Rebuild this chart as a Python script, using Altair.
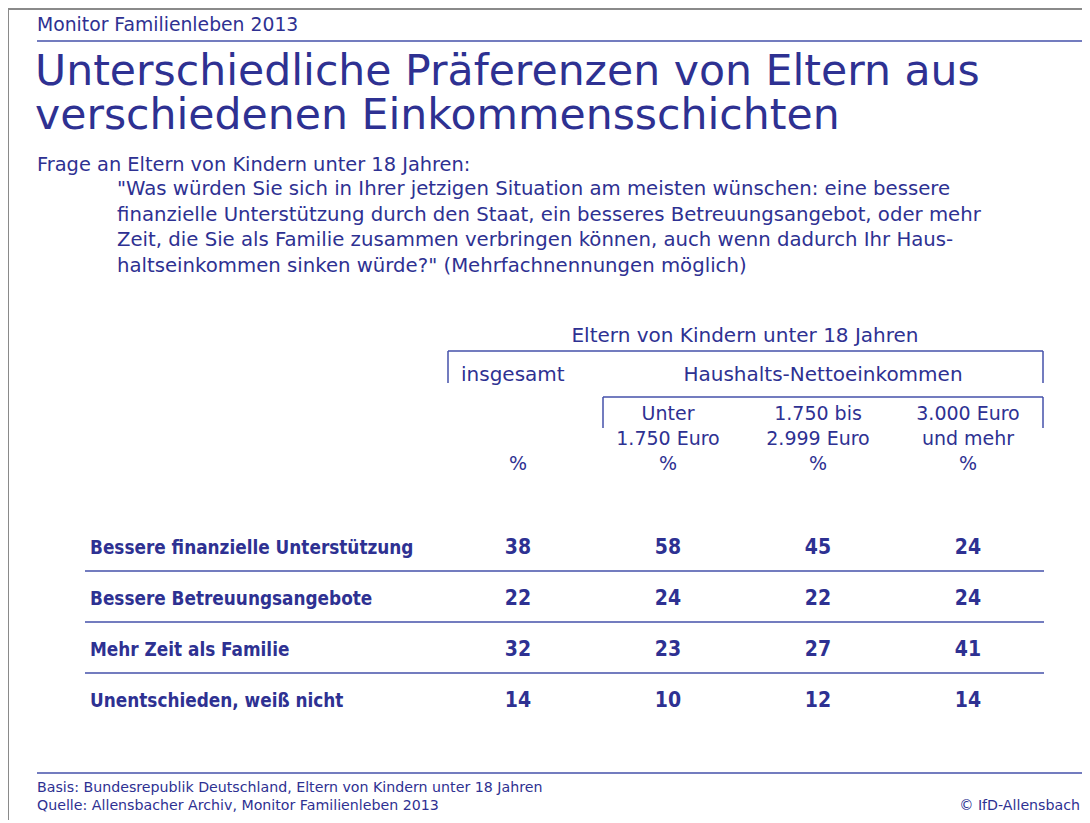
import altair as alt
import pandas as pd

# ---------------- data ----------------
rows = [
    "Bessere finanzielle Unterstützung",
    "Bessere Betreuungsangebote",
    "Mehr Zeit als Familie",
    "Unentschieden, weiß nicht",
]
columns = ["insgesamt", "Unter 1.750 Euro", "1.750 bis 2.999 Euro", "3.000 Euro und mehr"]
insgesamt = [38, 22, 32, 14]
unter_1750 = [58, 24, 23, 10]
von_1750_bis_2999 = [45, 22, 27, 12]
ab_3000 = [24, 24, 41, 14]
head_line1 = ["", "Unter", "1.750 bis", "3.000 Euro"]
head_line2 = ["", "1.750 Euro", "2.999 Euro", "und mehr"]
head_unit = ["%", "%", "%", "%"]

kicker = "Monitor Familienleben 2013"
title_lines = ["Unterschiedliche Präferenzen von Eltern aus", "verschiedenen Einkommensschichten"]
question_intro = "Frage an Eltern von Kindern unter 18 Jahren:"
question_lines = [
    "\"Was würden Sie sich in Ihrer jetzigen Situation am meisten wünschen: eine bessere",
    " finanzielle Unterstützung durch den Staat, ein besseres Betreuungsangebot, oder mehr",
    " Zeit, die Sie als Familie zusammen verbringen können, auch wenn dadurch Ihr Haus-",
    " haltseinkommen sinken würde?\" (Mehrfachnennungen möglich)",
]
group_label = "Eltern von Kindern unter 18 Jahren"
sub_label_total = "insgesamt"
sub_label_income = "Haushalts-Nettoeinkommen"
basis = "Basis: Bundesrepublik Deutschland, Eltern von Kindern unter 18 Jahren"
source = "Quelle: Allensbacher Archiv, Monitor Familienleben 2013"
copyright_note = "© IfD-Allensbach"

# ---------------- tables ----------------
series = [insgesamt, unter_1750, von_1750_bis_2999, ab_3000]
table = pd.DataFrame(
    [{"row": r, "col": c, "value": series[j][i]}
     for i, r in enumerate(rows) for j, c in enumerate(columns)]
)
heads = pd.DataFrame({"col": columns, "l1": head_line1, "l2": head_line2, "unit": head_unit})
row_df = pd.DataFrame({"row": rows})

# ---------------- style ----------------
W, H = 1074, 812
TXT = "#2e3192"
LINE = "#4450aa"
GRAY = "#8a8a8a"
FONT = "DejaVu Sans"
BOLD = "DejaVu Sans Condensed"

xs = alt.Scale(type="point", domain=columns, range=[510, 960], padding=0)
ys = alt.Scale(type="point", domain=rows, range=[538, 691], padding=0)
X = alt.X("col:N", scale=xs, axis=None)
Y = alt.Y("row:N", scale=ys, axis=None)

one = alt.Data(values=[{}])


def txt(text, x, y, size, align="left", weight="normal", font=FONT, line_height=None, baseline="alphabetic"):
    kw = dict(text=text, align=align, baseline=baseline, fontSize=size, font=font,
              fontWeight=weight, color=TXT)
    if line_height:
        kw["lineHeight"] = line_height
    return alt.Chart(one).mark_text(**kw).encode(x=alt.value(x), y=alt.value(y))


def rule(x, x2, y, y2=None, color=LINE, width=1.5):
    enc = dict(x=alt.value(x), x2=alt.value(x2), y=alt.value(y))
    if y2 is not None:
        enc["y2"] = alt.value(y2)
    return alt.Chart(one).mark_rule(color=color, strokeWidth=width).encode(**enc)


layers = []
# frame
layers.append(rule(0, W, 1, color=GRAY, width=2))
layers.append(rule(0, 0, 0, H, color=GRAY, width=2))
# kicker + line
layers.append(txt(kicker, 29, 23, 18.8))
layers.append(rule(29, W, 33))
# title
layers.append(txt(title_lines, 27, 77, 42.6, line_height=44))
# question
layers.append(txt(question_intro, 29, 163, 19.4))
layers.append(txt(question_lines, 109, 187, 19.7, line_height=25.5))

# header group
layers.append(txt(group_label, 737, 334, 20, align="center"))
layers.append(rule(440, 1035, 343))
layers.append(rule(440, 440, 343, 375))
layers.append(rule(1035, 1035, 343, 375))
layers.append(txt(sub_label_total, 453, 373, 20))
layers.append(txt(sub_label_income, 815, 373, 20, align="center"))
layers.append(rule(595, 1035, 389))
layers.append(rule(595, 595, 389, 420))
layers.append(rule(1035, 1035, 389, 420))

# column heads via column scale
hstyle = dict(fontSize=19, font=FONT, color=TXT, align="center", baseline="alphabetic")
layers.append(alt.Chart(heads).mark_text(**hstyle).encode(x=X, y=alt.value(412), text="l1:N"))
layers.append(alt.Chart(heads).mark_text(**hstyle).encode(x=X, y=alt.value(437), text="l2:N"))
layers.append(alt.Chart(heads).mark_text(**hstyle).encode(x=X, y=alt.value(462), text="unit:N"))

# row separators
layers.append(
    alt.Chart(row_df.iloc[:-1]).mark_rule(color=LINE, strokeWidth=1.5, yOffset=25)
    .encode(y=Y, x=alt.value(77), x2=alt.value(1036))
)
# row labels
layers.append(
    alt.Chart(row_df).mark_text(align="left", baseline="middle", fontSize=18.8, font=BOLD,
                                fontWeight="bold", color=TXT, dy=1.5)
    .encode(y=Y, x=alt.value(82), text="row:N")
)
# values
layers.append(
    alt.Chart(table).mark_text(align="center", baseline="middle", fontSize=21, font=BOLD,
                               fontWeight="bold", color=TXT, dy=1.5)
    .encode(x=X, y=Y, text="value:Q")
)

# footer
layers.append(rule(29, W, 765))
layers.append(txt(basis, 29, 784, 14.2))
layers.append(txt(source, 29, 802, 14.2))
layers.append(txt(copyright_note, 1072, 802, 14.2, align="right"))

chart = alt.layer(*layers).properties(
    width=W, height=H, padding=0, autosize=alt.AutoSizeParams(type="none")
).configure_view(stroke=None)

chart.save("out.html", embed_options={"renderer": "svg", "actions": False})
